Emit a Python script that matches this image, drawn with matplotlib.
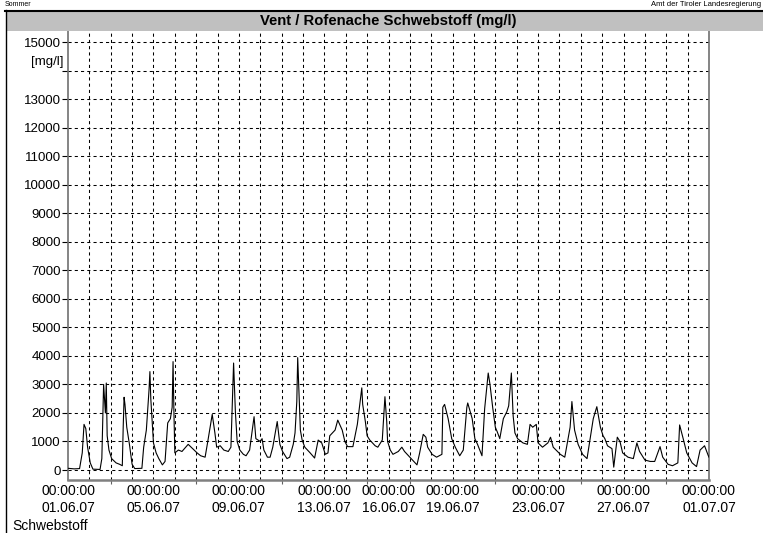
import numpy as np
import matplotlib.pyplot as plt
from matplotlib.patches import Rectangle
from matplotlib.lines import Line2D

plt.rcParams['font.family'] = ['Liberation Sans', 'DejaVu Sans']

# Suspended sediment at Vent / Rofenache, June 2007
# hours after 01.06.07 00:00 and concentration in mg/l
hours = [0, 7, 13, 16, 18, 20, 22, 25, 28, 36, 38, 40, 42, 43, 44, 46, 49, 54, 58, 61,
         62, 63, 64, 66, 69, 72, 75, 83, 85, 88, 90, 91, 92, 93, 96, 99, 102, 106, 109, 112,
         115, 117, 118, 119, 120, 124, 128, 135, 140, 145, 149, 154, 157, 162, 165, 167, 171, 175, 180, 183,
         186, 188, 190, 193, 197, 200, 204, 207, 209, 211, 216, 218, 220, 224, 227, 230, 235, 238, 241, 246,
         249, 253, 255, 257, 258, 261, 263, 266, 272, 277, 281, 285, 289, 292, 294, 300, 303, 308, 311, 314,
         320, 325, 330, 331, 334, 336, 339, 345, 348, 353, 356, 358, 359, 362, 365, 371, 375, 378, 384, 392,
         395, 399, 402, 404, 409, 414, 420, 421, 423, 427, 431, 435, 440, 444, 448, 449, 454, 457, 460, 465,
         468, 472, 474, 477, 480, 482, 485, 489, 493, 495, 498, 500, 502, 505, 511, 516, 519, 522, 526, 528,
         533, 539, 542, 545, 553, 558, 564, 566, 569, 573, 578, 583, 590, 594, 598, 601, 603, 606, 611, 613,
         617, 620, 623, 629, 635, 639, 642, 648, 654, 659, 665, 668, 674, 679, 685, 687, 691, 695, 701, 706,
         710, 715, 719, 720]
mg_l = [60, 40, 50, 600, 1600, 1450, 800, 250, 30, 20, 400, 3000, 2000, 3050, 1200, 700, 400, 250, 200, 150,
        1500, 2550, 2300, 1500, 900, 200, 50, 60, 800, 1400, 2300, 2800, 3450, 2500, 950, 600, 400, 180, 300, 1650,
        1800, 2200, 3800, 2000, 600, 700, 650, 900, 750, 600, 500, 450, 1000, 1950, 1300, 800, 850, 700, 650, 800,
        3750, 2050, 1000, 700, 550, 500, 700, 1400, 1870, 1100, 1000, 1100, 700, 450, 450, 800, 1700, 900, 650, 400,
        450, 900, 1300, 2400, 3940, 1400, 1050, 800, 600, 420, 1050, 950, 550, 600, 1200, 1400, 1750, 1400, 1000, 820,
        820, 1600, 2880, 2300, 1700, 1200, 1050, 850, 800, 1050, 2570, 1700, 1000, 700, 550, 650, 800, 650, 450, 180,
        600, 1250, 1150, 800, 550, 450, 550, 2200, 2300, 1800, 1100, 800, 500, 700, 2200, 2350, 1800, 1100, 900, 500,
        2150, 3400, 3000, 2200, 1500, 1350, 1100, 1800, 2050, 2250, 3400, 1900, 1300, 1100, 950, 900, 1600, 1500, 1600, 950,
        800, 950, 1150, 800, 550, 450, 1500, 2400, 1400, 900, 550, 400, 1800, 2220, 1500, 1200, 1100, 850, 750, 100,
        1150, 1000, 600, 450, 400, 950, 650, 350, 300, 300, 820, 450, 200, 150, 250, 1580, 1100, 600, 250, 120,
        700, 850, 520, 450]

y_ticks = list(range(0, 16000, 1000))
y_labels = ['' if v == 14000 else str(v) for v in y_ticks]
date_days = [0, 4, 8, 12, 15, 18, 22, 26, 30]
date_labels = ['01.06.07', '05.06.07', '09.06.07', '13.06.07', '16.06.07',
               '19.06.07', '23.06.07', '27.06.07', '01.07.07']

W, H = 763, 533
fig = plt.figure(figsize=(W / 100, H / 100), dpi=100)

def fx(px):
    return px / W

def fy(py):
    return 1 - py / H

# frame and grey title bar
fig.add_artist(Rectangle((fx(6), fy(31)), fx(763) - fx(6), fy(12) - fy(31),
                         transform=fig.transFigure, facecolor='#c0c0c0', edgecolor='none'))
fig.add_artist(Line2D([fx(5), fx(763)], [fy(11), fy(11)], transform=fig.transFigure,
                      color='black', lw=1.5))
fig.add_artist(Line2D([fx(5.5), fx(5.5)], [fy(10), fy(533)], transform=fig.transFigure,
                      color='black', lw=1))

ax = fig.add_axes([fx(68), fy(480), fx(709) - fx(68), fy(31) - fy(480)])
ax.set_xlim(0, 30)
ax.set_ylim(-350, 15390)

dash = (0, (3, 3))
for d in range(1, 30):
    ax.axvline(d, color='black', lw=0.75, ls=dash, zorder=1)
for v in y_ticks:
    ax.axhline(v, color='black', lw=0.75, ls=dash, zorder=1)

days = np.array(hours) / 24
ax.plot(days, mg_l, color='black', lw=0.8, zorder=3)

ax.set_yticks(y_ticks, y_labels, fontsize=9.5)
ax.tick_params(axis='y', length=4, width=0.8, pad=1, color='black')

ax.set_xticks(date_days, ['00:00:00\n' + s for s in date_labels], fontsize=10,
              linespacing=1.3)
ax.set_xticks(np.arange(0, 31, 2), minor=True)
ax.tick_params(axis='x', which='major', length=0, pad=3)
ax.tick_params(axis='x', which='minor', length=3, width=0.8, color='#606060')

ax.spines['top'].set_visible(False)
ax.spines['left'].set_color('#707070')
ax.spines['left'].set_linewidth(1.2)
ax.spines['right'].set_color('#707070')
ax.spines['right'].set_linewidth(1.2)
ax.spines['bottom'].set_color('#808080')
ax.spines['bottom'].set_linewidth(1.8)

fig.text(fx(388.5), fy(21.5), 'Vent / Rofenache Schwebstoff (mg/l)', ha='center', va='center',
         fontsize=10.7, fontweight='bold')
fig.text(fx(64), fy(62), '[mg/l]', ha='right', va='center', fontsize=9.5)
fig.text(fx(12), fy(526), 'Schwebstoff', ha='left', va='center', fontsize=10)
fig.text(fx(5), fy(4), 'Sommer', ha='left', va='center', fontsize=5)
fig.text(fx(761), fy(4), 'Amt der Tiroler Landesregierung', ha='right', va='center', fontsize=5.5)

fig.savefig('out.png', dpi=100)
